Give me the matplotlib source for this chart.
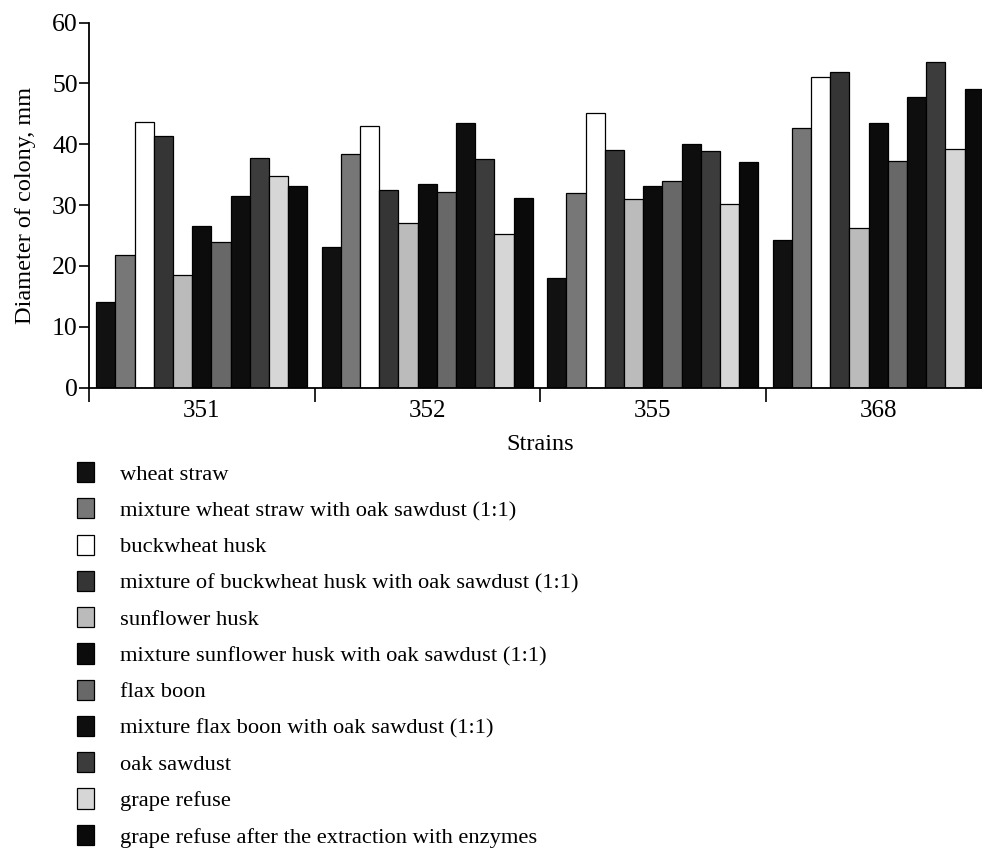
import numpy as np
import matplotlib
matplotlib.use("Agg")
from matplotlib import pyplot as plt

strains = ["351", "352", "355", "368"]
substrates = [
    "wheat straw",
    "mixture wheat straw with oak sawdust (1:1)",
    "buckwheat husk",
    "mixture of buckwheat husk with oak sawdust (1:1)",
    "sunflower husk",
    "mixture sunflower husk with oak sawdust (1:1)",
    "flax boon",
    "mixture flax boon with oak sawdust (1:1)",
    "oak sawdust",
    "grape refuse",
    "grape refuse after the extraction with enzymes",
]
# diameter of colony, mm: one row per substrate, one column per strain
diameter = [
    [14.0, 23.1, 18.0, 24.3],
    [21.8, 38.4, 32.0, 42.6],
    [43.6, 43.0, 45.2, 51.0],
    [41.4, 32.4, 39.0, 51.8],
    [18.5, 27.0, 31.0, 26.2],
    [26.6, 33.5, 33.2, 43.5],
    [23.9, 32.1, 34.0, 37.3],
    [31.4, 43.5, 40.1, 47.7],
    [37.8, 37.6, 38.8, 53.5],
    [34.8, 25.3, 30.1, 39.2],
    [33.2, 31.2, 37.1, 49.0],
]
colors = ["#111111", "#777777", "#ffffff", "#353535", "#bbbbbb", "#0c0c0c",
          "#686868", "#0e0e0e", "#3c3c3c", "#d6d6d6", "#0a0a0a"]

plt.rcParams["font.family"] = ["Liberation Serif", "DejaVu Serif"]

fig = plt.figure(figsize=(9.82, 8.52), dpi=100)
ax = fig.add_axes([89 / 982, 1 - 387.5 / 852, 902 / 982, 365 / 852])

x = np.arange(len(strains))
n = len(substrates)
width = 0.085
handles = []
for j in range(n):
    offs = (j - (n - 1) / 2) * width
    b = ax.bar(x + offs, diameter[j], width, color=colors[j], edgecolor="black",
               linewidth=0.9, label=substrates[j])
    handles.append(b)

ax.set_xlim(-0.5, 3.5)
ax.set_ylim(0, 60)
ax.set_yticks([0, 10, 20, 30, 40, 50, 60])
ax.tick_params(axis="y", direction="out", length=7, width=1.2, labelsize=18.5, pad=1)
ax.set_xticks(x)
ax.set_xticklabels(strains)
ax.set_xticks([0.5, 1.5, 2.5, -0.5], minor=True)
ax.tick_params(axis="x", which="major", length=0, labelsize=18, pad=9)
ax.tick_params(axis="x", which="minor", direction="out", length=10, width=1.2)
for s in ["top", "right"]:
    ax.spines[s].set_visible(False)
ax.spines["left"].set_linewidth(1.3)
ax.spines["bottom"].set_linewidth(1.3)
ax.set_ylabel("Diameter of colony, mm", fontsize=17.5)
ax.yaxis.set_label_coords(-0.0586, 0.5)
ax.set_xlabel("Strains", fontsize=17.5, labelpad=8.5)

fig.legend(handles=handles, labels=substrates, loc="upper left",
           bbox_to_anchor=(68 / 982, 1 - 453 / 852), frameon=False,
           fontsize=16.2, handlelength=0.75, handleheight=1.0, handletextpad=1.15,
           labelspacing=0.6, borderaxespad=0)

plt.savefig("out.png", dpi=100)
